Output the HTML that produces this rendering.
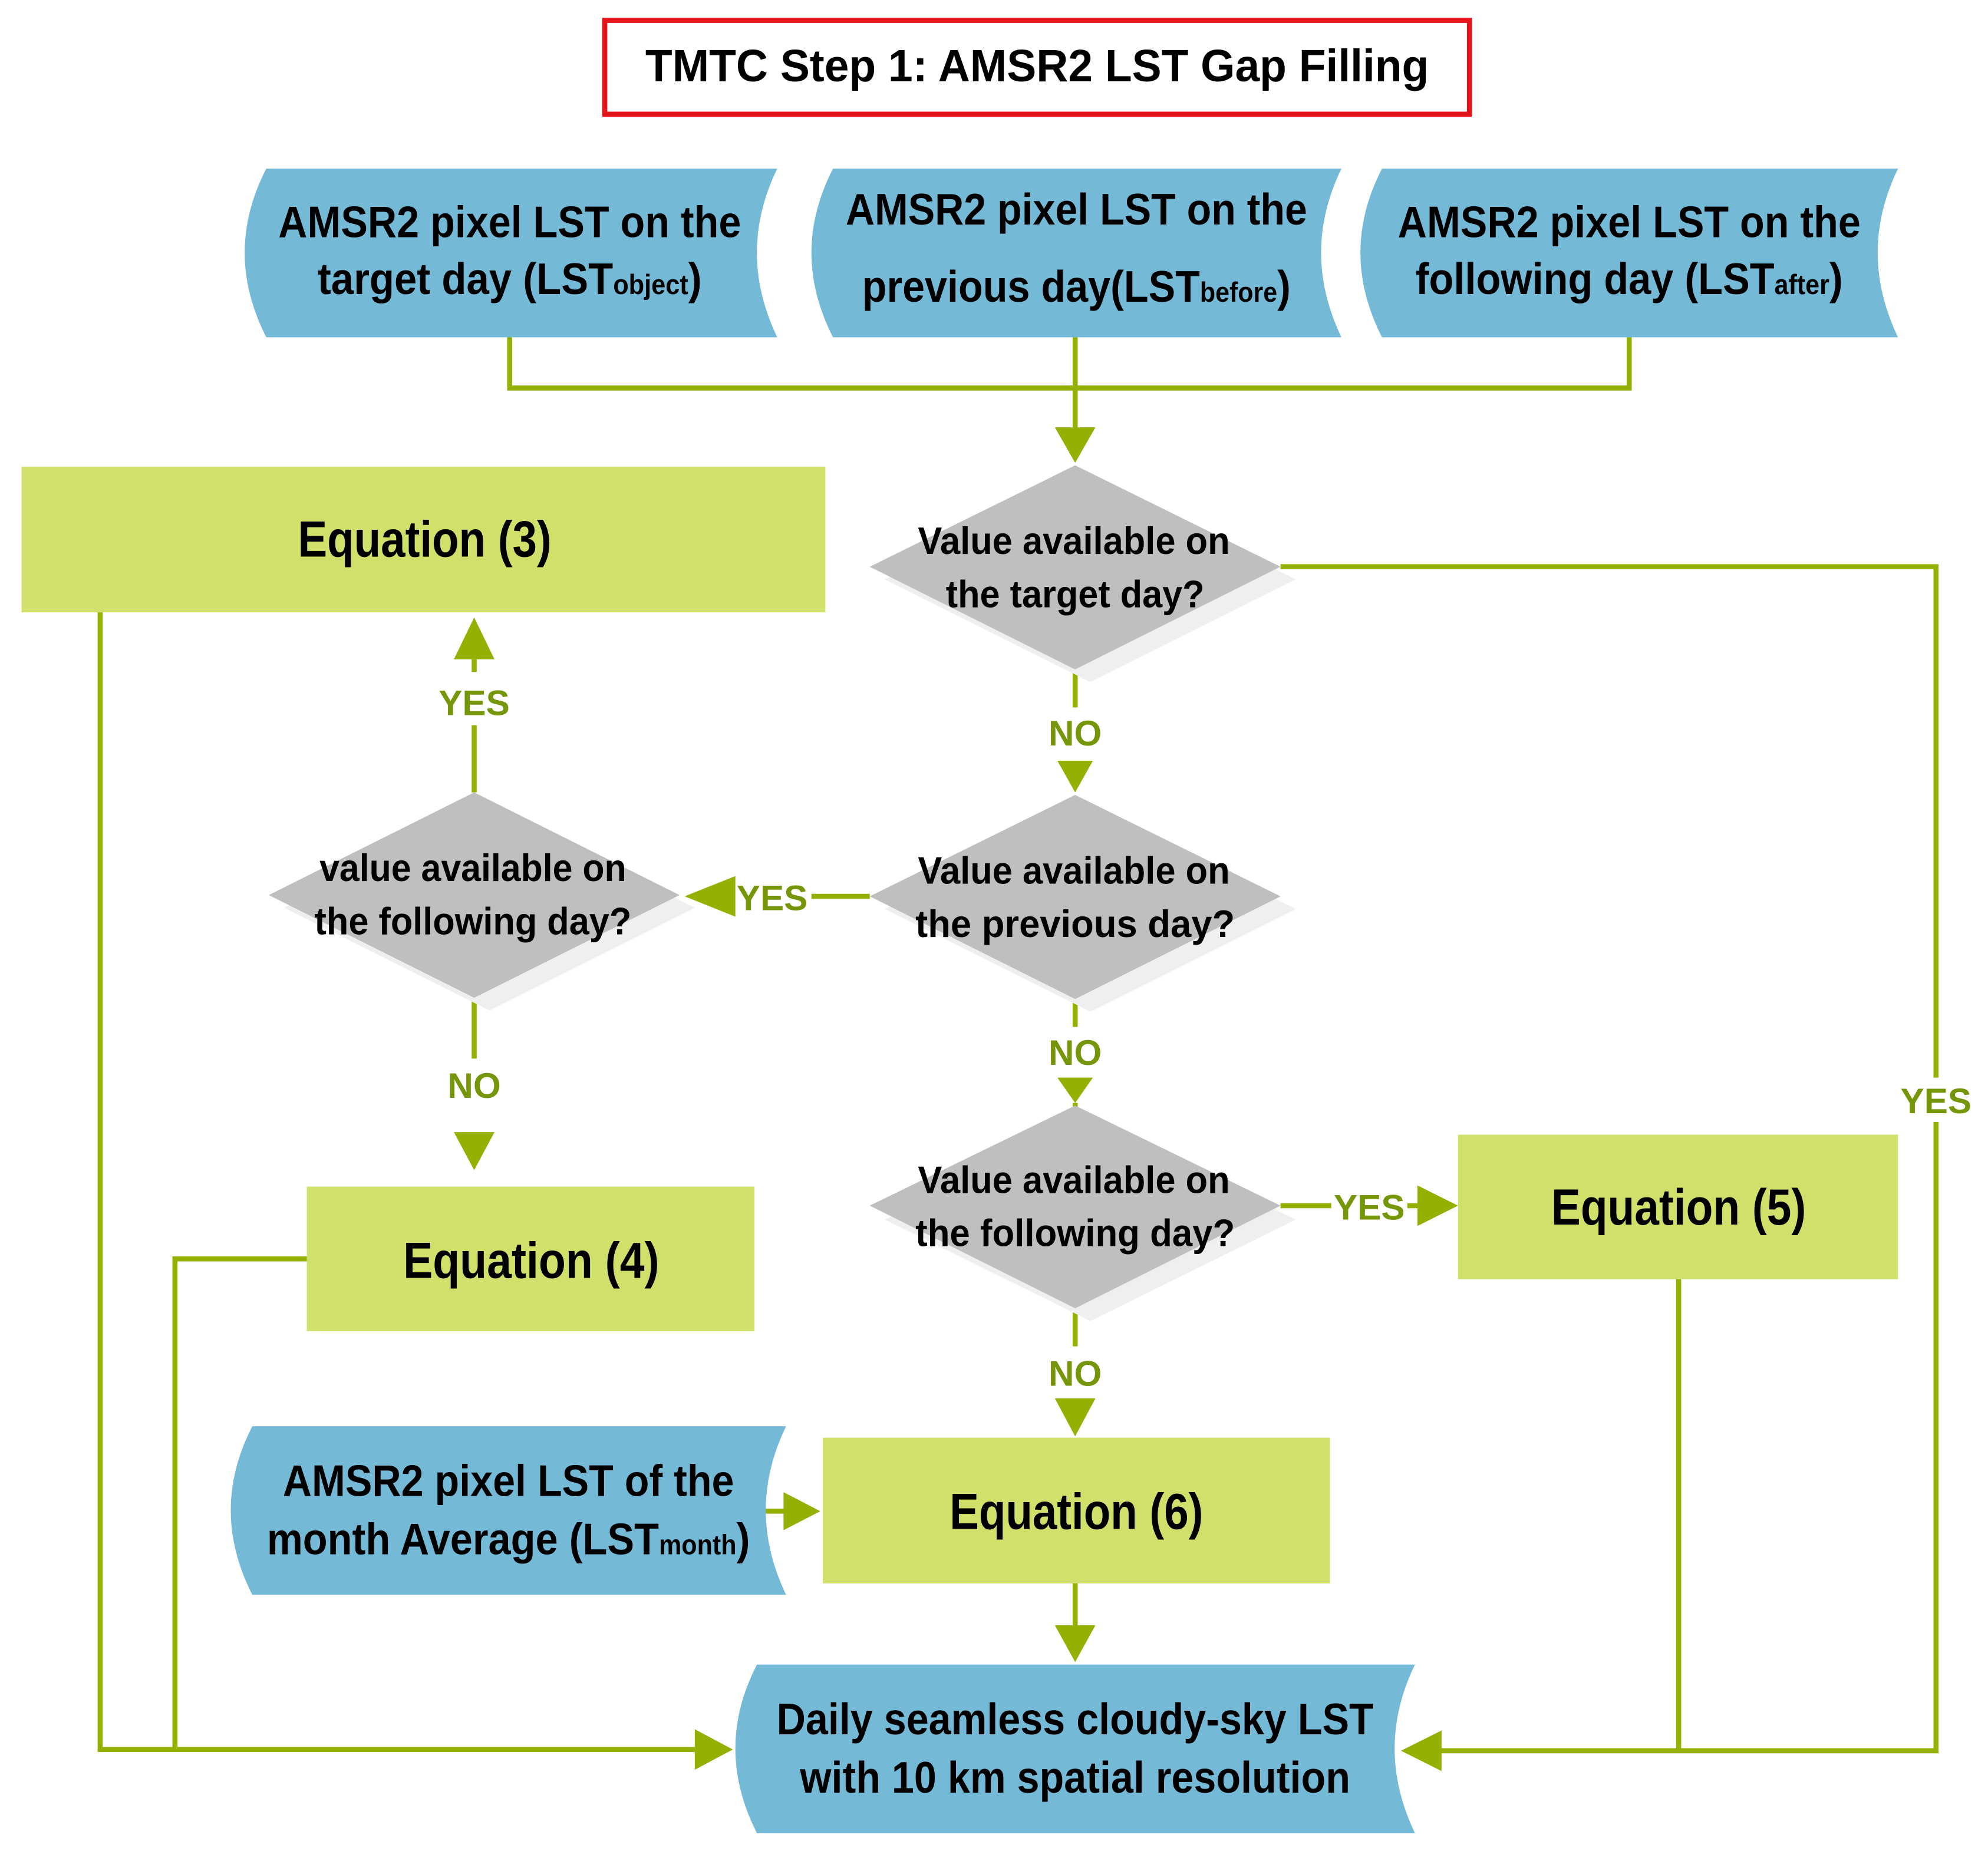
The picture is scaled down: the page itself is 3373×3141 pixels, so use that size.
<!DOCTYPE html>
<html><head><meta charset="utf-8"><style>
html,body{margin:0;padding:0;background:#fff;}
svg{display:block;}
text{font-family:"Liberation Sans",sans-serif;font-weight:bold;}
.t{fill:#000;}
.l{fill:#76960a;font-weight:normal;font-size:28px;}
</style></head><body>
<svg width="3373" height="3141" viewBox="0 0 1568 1460" xmlns="http://www.w3.org/2000/svg">
<defs>
<marker id="a" markerWidth="10" markerHeight="10" refX="0" refY="0" orient="auto" markerUnits="userSpaceOnUse" overflow="visible"></marker>
</defs>
<rect width="1568" height="1460" fill="#fff"/>
<!-- title -->
<rect x="477" y="16" width="682" height="74" fill="#fff" stroke="#e8141b" stroke-width="4"/>
<text class="t" x="818" y="64" font-size="36" text-anchor="middle" textLength="618" lengthAdjust="spacingAndGlyphs">TMTC Step 1: AMSR2 LST Gap Filling</text>

<!-- connector lines -->
<g stroke="#94b000" stroke-width="4" fill="none">
<polyline points="402,266 402,306 1285,306 1285,266"/>
<line x1="848" y1="266" x2="848" y2="340"/>
<polyline points="1010,447 1527,447 1527,850"/>
<polyline points="1527,885 1527,1381 1135,1381"/>
<line x1="848" y1="528" x2="848" y2="558"/>
<line x1="686" y1="707" x2="640" y2="707"/>
<line x1="374" y1="625" x2="374" y2="572"/>
<line x1="374" y1="787" x2="374" y2="835"/>
<line x1="848" y1="788" x2="848" y2="810"/>
<line x1="1010" y1="951" x2="1050" y2="951"/>
<line x1="1110" y1="951" x2="1122" y2="951"/>
<line x1="1324" y1="1009" x2="1324" y2="1381"/>
<line x1="848" y1="1032" x2="848" y2="1062"/>
<line x1="600" y1="1192" x2="622" y2="1192"/>
<line x1="848" y1="1249" x2="848" y2="1285"/>
<polyline points="79,483 79,1380 550,1380"/>
<polyline points="242,993 138,993 138,1380"/>
<line x1="578" y1="707" x2="560" y2="707"/>
<line x1="374" y1="520" x2="374" y2="530"/>
<line x1="848" y1="870" x2="848" y2="876"/>
</g>
<!-- arrowheads -->
<g fill="#94b000">
<polygon points="832,337 864,337 848,365"/>
<polygon points="834,600 862,600 848,625"/>
<polygon points="834,850 862,850 848,870"/>
<polygon points="832,1103 864,1103 848,1133"/>
<polygon points="832,1282 864,1282 848,1311"/>
<polygon points="580,691 580,723 540,707"/>
<polygon points="358,520 390,520 374,487"/>
<polygon points="358,893 390,893 374,923"/>
<polygon points="1118,935 1118,967 1150,951"/>
<polygon points="618,1177 618,1207 647,1192"/>
<polygon points="548,1364 548,1396 578,1380"/>
<polygon points="1137,1365 1137,1397 1105,1381"/>
</g>

<!-- tapes -->
<g fill="#74b9d6">
<path d="M210,133 L613,133 Q581,199 613,266 L210,266 Q176,199 210,133 Z"/>
<path d="M657,133 L1058,133 Q1026,199 1058,266 L657,266 Q623,199 657,133 Z"/>
<path d="M1090,133 L1497,133 Q1465,199 1497,266 L1090,266 Q1056,199 1090,133 Z"/>
<path d="M199,1125 L620,1125 Q588,1191 620,1258 L199,1258 Q165,1191 199,1125 Z"/>
<path d="M597,1313 L1116,1313 Q1084,1379 1116,1446 L597,1446 Q563,1379 597,1313 Z"/>
</g>
<!-- tape text -->
<g class="t" font-size="35" text-anchor="middle">
<text x="402" y="187" textLength="365" lengthAdjust="spacingAndGlyphs">AMSR2 pixel LST on the</text>
<text x="402" y="232" textLength="303" lengthAdjust="spacingAndGlyphs">target day (LST<tspan font-size="22">object</tspan>)</text>
<text x="849" y="177" textLength="364" lengthAdjust="spacingAndGlyphs">AMSR2 pixel LST on the</text>
<text x="849" y="238" textLength="338" lengthAdjust="spacingAndGlyphs">previous day(LST<tspan font-size="22">before</tspan>)</text>
<text x="1285" y="187" textLength="365" lengthAdjust="spacingAndGlyphs">AMSR2 pixel LST on the</text>
<text x="1285" y="232" textLength="337" lengthAdjust="spacingAndGlyphs">following day (LST<tspan font-size="22">after</tspan>)</text>
<text x="401" y="1180" textLength="356" lengthAdjust="spacingAndGlyphs">AMSR2 pixel LST of the</text>
<text x="401" y="1226" textLength="381" lengthAdjust="spacingAndGlyphs">month Average (LST<tspan font-size="22">month</tspan>)</text>
<text x="848" y="1368" textLength="471" lengthAdjust="spacingAndGlyphs">Daily seamless cloudy-sky LST</text>
<text x="848" y="1414" textLength="434" lengthAdjust="spacingAndGlyphs">with 10 km spatial resolution</text>
</g>

<!-- green boxes -->
<g fill="#d0e06a">
<rect x="17" y="368" width="634" height="115"/>
<rect x="242" y="936" width="353" height="114"/>
<rect x="1150" y="895" width="347" height="114"/>
<rect x="649" y="1134" width="400" height="115"/>
</g>
<g class="t" font-size="40" text-anchor="middle">
<text x="335" y="439" textLength="200" lengthAdjust="spacingAndGlyphs">Equation (3)</text>
<text x="419" y="1008" textLength="202" lengthAdjust="spacingAndGlyphs">Equation (4)</text>
<text x="1324" y="966" textLength="201" lengthAdjust="spacingAndGlyphs">Equation (5)</text>
<text x="849" y="1206" textLength="200" lengthAdjust="spacingAndGlyphs">Equation (6)</text>
</g>

<!-- diamonds -->
<g fill="#efefef">
<polygon points="860,377 1022,457 860,538 698,457"/>
<polygon points="860,637 1022,717 860,798 698,717"/>
<polygon points="386,635 548,716 386,797 224,716"/>
<polygon points="860,882 1022,962 860,1042 698,962"/>
</g>
<g fill="#bfbfbf">
<polygon points="848,367 1010,447 848,528 686,447"/>
<polygon points="848,627 1010,707 848,788 686,707"/>
<polygon points="374,625 536,706 374,787 212,706"/>
<polygon points="848,872 1010,951 848,1032 686,951"/>
</g>
<g class="t" font-size="30" text-anchor="middle" font-weight="normal">
<text x="847" y="437" textLength="246" lengthAdjust="spacingAndGlyphs">Value available on</text>
<text x="848" y="479" textLength="204" lengthAdjust="spacingAndGlyphs">the target day?</text>
<text x="847" y="697" textLength="246" lengthAdjust="spacingAndGlyphs">Value available on</text>
<text x="848" y="739" textLength="252" lengthAdjust="spacingAndGlyphs">the previous  day?</text>
<text x="373" y="695" textLength="242" lengthAdjust="spacingAndGlyphs">value available on</text>
<text x="373" y="737" textLength="250" lengthAdjust="spacingAndGlyphs">the following day?</text>
<text x="847" y="941" textLength="246" lengthAdjust="spacingAndGlyphs">Value available on</text>
<text x="848" y="983" textLength="252" lengthAdjust="spacingAndGlyphs">the following day?</text>
</g>

<!-- labels -->
<g class="l" text-anchor="middle">
<text x="848" y="588">NO</text>
<text x="848" y="840">NO</text>
<text x="848" y="1093">NO</text>
<text x="374" y="866">NO</text>
<text x="374" y="564">YES</text>
<text x="609" y="718">YES</text>
<text x="1080" y="962">YES</text>
<text x="1527" y="878">YES</text>
</g>
</svg>
</body></html>
